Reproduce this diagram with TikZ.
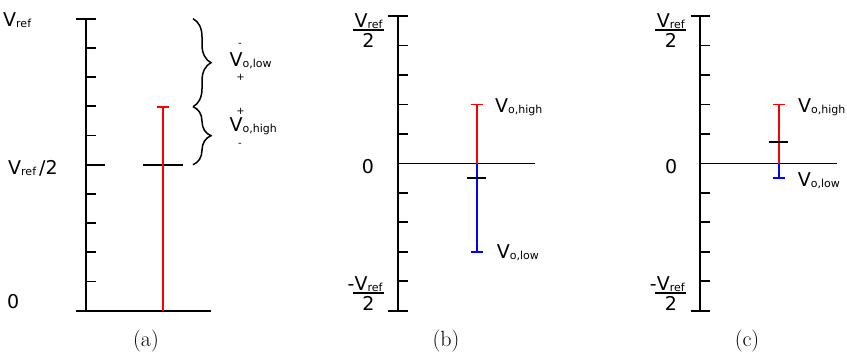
\documentclass[tikz,border=0pt]{standalone}
\usepackage{fontspec}
\usetikzlibrary{decorations.pathreplacing}
\newfontfamily\dv{DejaVu Sans}
\newcommand\lbl{\dv\fontsize{19}{19}\selectfont}
\newcommand\sbs[1]{\raisebox{-1pt}{\fontsize{11}{11}\selectfont #1}}
\newcommand\vfr[2]{\vbox{\halign{\hfil##\hfil\cr #1\cr\noalign{\kern0.6pt\hrule height1.5pt\kern2pt}#2\cr}}}
\begin{document}
\begin{tikzpicture}[x=1pt,y=-1pt,
  ax/.style={line width=1.8pt},
  hi/.style={line width=1.8pt, red},
  lo/.style={line width=1.8pt, blue},
  lab/.style={inner sep=0pt, anchor=base west, font=\lbl},
  frc/.style={inner sep=0pt, anchor=base, font=\lbl},
  sgn/.style={inner sep=0pt, font=\dv\fontsize{10}{10}\selectfont},
  capt/.style={inner sep=0pt, anchor=base, font=\fontsize{22}{22}\selectfont},
  brc/.style={decorate, decoration={brace, amplitude=18pt}, line width=1.5pt}]
\useasboundingbox (0,0) rectangle (847,354);

% ---------- panel (a)
\coordinate (aT) at (86,18.7);
\coordinate (aB) at (86,310.7);
\draw[ax] (aT) -- (aB);
\draw[ax] (76,18.7) -- (95.7,18.7);
\foreach \i in {1,2,3,4,6,7,8,9}
  \draw[ax] (86,{18.7+\i*29.2}) -- (95.5,{18.7+\i*29.2});
\draw[ax] (86,164.7) -- (105,164.7);
\draw[ax] (76,310.7) -- (211,310.7);
\coordinate (amL) at (143.3,164.7);
\coordinate (amR) at (182.7,164.7);
\draw[ax] (amL) -- (amR);
\coordinate (ahT) at (162.7,106.7);
\coordinate (ahB) at (162.7,310.7);
\draw[hi] (ahT) -- (ahB);
\draw[hi] (156.7,106.7) -- (168.7,106.7);
\draw[brc] (193,18.7) -- (193,106.7);
\draw[brc] (193,106.7) -- (193,164.7);
\node[lab] (avr) at (3,26) {V\sbs{ref}};
\node[lab] (avh) at (8,174) {V\sbs{ref\hspace{3pt}}/2};
\node[lab] (az) at (7,308) {0};
\node[lab] (avlo) at (229.5,66.7) {V\sbs{o,low}};
\node[sgn] (ami1) at (240,44.5) {-};
\node[sgn] (apl1) at (240.5,77) {+};
\node[lab] (avhi) at (229.5,131.7) {V\sbs{o,high}};
\node[sgn] (apl2) at (240.5,111.7) {+};
\node[sgn] (ami2) at (240,144.5) {-};
\node[capt] (capa) at (146,346) {(a)};

% ---------- panel (b)
\draw[ax] (397.7,16) -- (397.7,310.7);
\draw[ax] (388.3,16) -- (407.7,16);
\draw[ax] (388.3,310.7) -- (407.7,310.7);
\foreach \i in {1,2,3,4,6,7,8,9}
  \draw[ax] (397.7,{16+\i*29.47}) -- (407.5,{16+\i*29.47});
\draw[ax] (397.7,163.5) -- (535,163.5);
\draw[hi] (476.7,104.4) -- (476.7,163.5);
\draw[hi] (470.7,104.4) -- (482.7,104.4);
\draw[lo] (476.7,163.5) -- (476.7,251.8);
\draw[lo] (470.7,251.8) -- (482.7,251.8);
\draw[ax] (467,178.1) -- (486.3,178.1);
\node[lab] (bvhi) at (495,112) {V\sbs{o,high}};
\node[lab] (bvlo) at (496.7,258) {V\sbs{o,low}};
\node[lab] (bz) at (361.7,173) {0};
\node[frc] (bft) at (368.5,47) {\vfr{\hskip1.5pt V\sbs{ref}\hskip1.5pt}{2}};
\node[frc] (bfb) at (368.5,310) {\vfr{\hskip1.5pt\llap{-}V\sbs{ref}\hskip1.5pt}{2}};
\node[capt] (capb) at (446,346) {(b)};

% ---------- panel (c)
\draw[ax] (700.3,16) -- (700.3,310.7);
\draw[ax] (690.7,16) -- (710,16);
\draw[ax] (690.7,310.7) -- (710,310.7);
\foreach \i in {1,2,3,4,6,7,8,9}
  \draw[ax] (700.3,{16+\i*29.47}) -- (710,{16+\i*29.47});
\draw[ax] (700.3,163.5) -- (837,163.5);
\draw[hi] (778.7,104.4) -- (778.7,163.5);
\draw[hi] (772.7,104.4) -- (784.7,104.4);
\draw[lo] (778.7,163.5) -- (778.7,178.1);
\draw[lo] (772.7,178.1) -- (784.7,178.1);
\draw[ax] (768.7,142.3) -- (788.3,142.3);
\node[lab] (cvhi) at (798,112) {V\sbs{o,high}};
\node[lab] (cvlo) at (797.7,186.5) {V\sbs{o,low}};
\node[lab] (cz) at (665,173) {0};
\node[frc] (cft) at (670.8,47) {\vfr{\hskip1.5pt V\sbs{ref}\hskip1.5pt}{2}};
\node[frc] (cfb) at (670.8,310) {\vfr{\hskip1.5pt\llap{-}V\sbs{ref}\hskip1.5pt}{2}};
\node[capt] (capc) at (747,346) {(c)};
\end{tikzpicture}
\end{document}
